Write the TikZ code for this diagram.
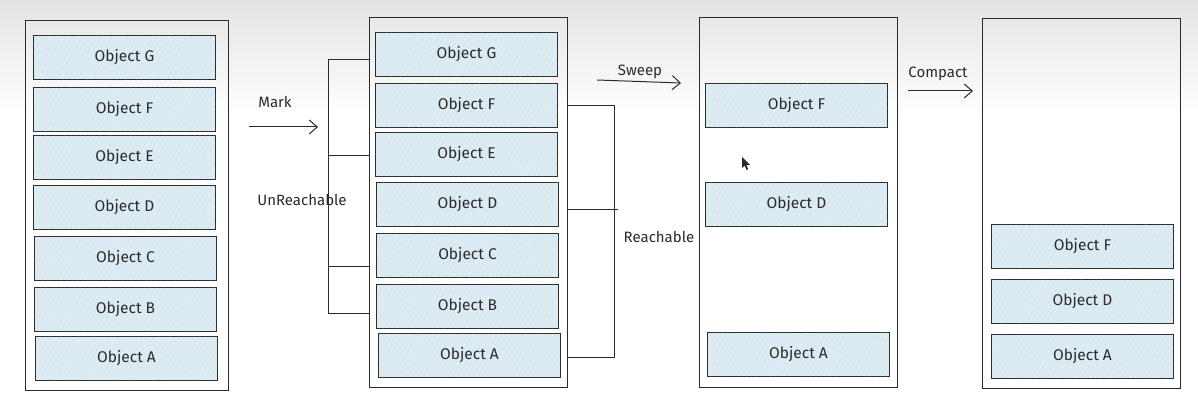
\documentclass[tikz,border=0pt]{standalone}
\usepackage{fontspec}
\setmainfont{Fira Sans}
\usetikzlibrary{arrows.meta,patterns.meta,calc}
\definecolor{ink}{HTML}{2B2B2B}
\definecolor{objfill}{HTML}{DDEBF3}
\definecolor{hatch}{HTML}{B3CCDA}
\tikzset{
  container/.style={draw=ink, line width=1pt, anchor=north west, inner sep=0pt},
  obj/.style={draw=ink, line width=1pt, fill=objfill, anchor=north west,
    minimum width=182pt, minimum height=44pt, inner sep=0pt,
    font=\fontsize{15.5}{17}\selectfont, text=ink,
    postaction={pattern={Lines[angle=60,distance=4pt,line width=0.4pt]}, pattern color=hatch}},
  lbl/.style={font=\fontsize{15}{17}\selectfont, text=ink, inner sep=1pt},
  wire/.style={draw=ink, line width=0.9pt},
  flow/.style={draw=ink, line width=1pt, -{Straight Barb[length=8pt,width=14pt,line width=1pt]}}
}
\begin{document}
\begin{tikzpicture}[x=1pt,y=-1pt]
\useasboundingbox (0,0) rectangle (1198,406);
\fill[white] (0,0) rectangle (1198,406);
\shade[top color=black!11, bottom color=white] (0,0) rectangle (1198,115);

% column 1
\node[container, minimum width=203pt, minimum height=370pt] (c1out) at (25,20) {};
\node[obj] (c1g) at (33,35) {Object G};
\node[obj] (c1f) at (33,87) {Object F};
\node[obj] (c1e) at (33,135) {Object E};
\node[obj] (c1d) at (33,185) {Object D};
\node[obj] (c1c) at (34,236) {Object C};
\node[obj] (c1b) at (34,287) {Object B};
\node[obj] (c1a) at (35,336) {Object A};

% column 2
\node[container, minimum width=198pt, minimum height=370pt] (c2out) at (369,17) {};
\node[obj] (c2g) at (375,32) {Object G};
\node[obj] (c2f) at (375,83) {Object F};
\node[obj] (c2e) at (375,132) {Object E};
\node[obj] (c2d) at (376,182) {Object D};
\node[obj] (c2c) at (376,233) {Object C};
\node[obj] (c2b) at (376,284) {Object B};
\node[obj] (c2a) at (378,333) {Object A};

% column 3
\node[container, minimum width=198pt, minimum height=370pt] (c3out) at (699,17) {};
\node[obj] (c3f) at (705,83) {Object F};
\node[obj] (c3d) at (705,182) {Object D};
\node[obj] (c3a) at (707,332) {Object A};

% column 4
\node[container, minimum width=198pt, minimum height=370pt] (c4out) at (982,18) {};
\node[obj] (c4f) at (991,224) {Object F};
\node[obj] (c4d) at (991,279) {Object D};
\node[obj] (c4a) at (991,334) {Object A};

% unreachable bracket
\coordinate (ubx) at (328,0);
\draw[wire] (c2out.west |- {$(c2g.west)+(0,5)$}) -- (ubx |- {$(c2g.west)+(0,5)$})
  -- (ubx |- {$(c2b.west)+(0,7)$}) -- (c2out.west |- {$(c2b.west)+(0,7)$});
\draw[wire] (ubx |- {$(c2e.west)+(0,1)$}) -- (c2out.west |- {$(c2e.west)+(0,1)$});
\draw[wire] (ubx |- {$(c2c.west)+(0,11)$}) -- (c2out.west |- {$(c2c.west)+(0,11)$});
\node[lbl] (unr) at (302,200) {UnReachable};

% reachable bracket
\coordinate (rbx) at (614,0);
\draw[wire] (c2out.east |- c2f.east) -- (rbx |- c2f.east)
  -- (rbx |- {$(c2a.east)+(0,2)$}) -- (c2out.east |- {$(c2a.east)+(0,2)$});
\draw[wire] (c2out.east |- {$(c2d.east)+(0,5)$}) -- ([xshift=4pt]rbx |- {$(c2d.east)+(0,5)$});
\node[lbl] (rea) at (659,237) {Reachable};

% arrows
\coordinate (m1) at (249,127);
\coordinate (m2) at (318,127);
\draw[flow] (m1) -- (m2);
\node[lbl] (mark) at (275,102) {Mark};

\coordinate (s1) at (597,80);
\coordinate (s2) at (681,83);
\draw[flow] (s1) -- (s2);
\node[lbl] (sweep) at (640,72) {Sweep};

\coordinate (k1) at (908,91);
\coordinate (k2) at (973,91);
\draw[flow] (k1) -- (k2);
\node[lbl] (compact) at (938,74) {Compact};

% mouse cursor
\fill[ink] (742,157) -- (742,168) -- (744.6,165.6) -- (746.6,170) -- (748.2,169.3) -- (746.3,165) -- (749.8,164.8) -- cycle;
\end{tikzpicture}
\end{document}
